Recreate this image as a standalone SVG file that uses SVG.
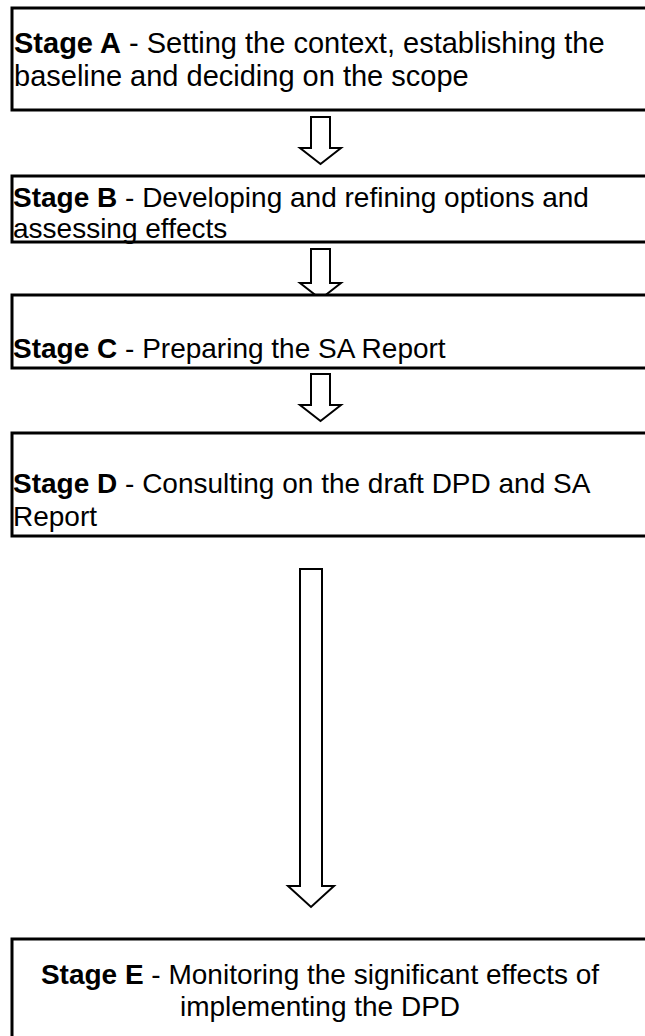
<svg xmlns="http://www.w3.org/2000/svg" width="645" height="1036" viewBox="0 0 645 1036">
<style>
.box{fill:#fff;stroke:#000;stroke-width:3}
.arr{fill:#fff;stroke:#000;stroke-width:2;stroke-linejoin:miter}
text{font-family:"Liberation Sans",Arial,sans-serif;font-size:28px;fill:#000}
.big{font-size:29px}
.b{font-weight:bold}
</style>
<rect width="645" height="1036" fill="#fff"/>
<g id="connectors">
<polygon class="arr" points="311,117 330,117 330,148 341,148 320.5,164 300,148 311,148"/>
<polygon class="arr" points="311,249 330,249 330,283 341,283 320.5,299 300,283 311,283"/>
<polygon class="arr" points="311,374 330,374 330,405 341,405 320.5,421 300,405 311,405"/>
<polygon class="arr" points="300,569 322,569 322,886 334,886 311,907 288,886 300,886"/>
</g>
<g id="stageA">
<rect class="box" x="12" y="8" width="660" height="102"/>
<text class="big" x="14" y="53"><tspan class="b">Stage A</tspan> - Setting the context, establishing the</text>
<text class="big" x="14" y="86">baseline and deciding on the scope</text>
</g>
<g id="stageB">
<rect class="box" x="12" y="176" width="660" height="66"/>
<text x="13" y="207"><tspan class="b">Stage B</tspan> - Developing and refining options and</text>
<text x="13" y="238">assessing effects</text>
</g>
<g id="stageC">
<rect class="box" x="12" y="295" width="660" height="73"/>
<text x="13" y="358"><tspan class="b">Stage C</tspan> - Preparing the SA Report</text>
</g>
<g id="stageD">
<rect class="box" x="12" y="433" width="660" height="103"/>
<text x="13" y="493"><tspan class="b">Stage D</tspan> - Consulting on the draft DPD and SA</text>
<text x="13" y="526">Report</text>
</g>
<g id="stageE">
<rect class="box" x="12" y="939" width="660" height="120"/>
<text x="320" y="984" text-anchor="middle"><tspan class="b">Stage E</tspan> - Monitoring the significant effects of</text>
<text x="320" y="1016" text-anchor="middle">implementing the DPD</text>
</g>
</svg>
